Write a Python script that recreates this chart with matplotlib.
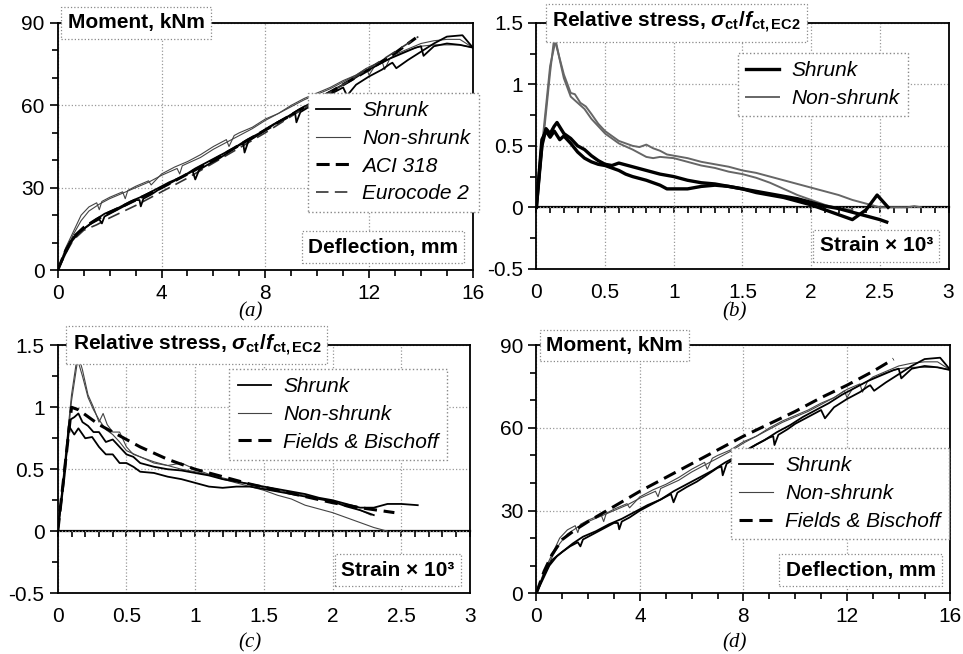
import matplotlib
matplotlib.use('Agg')
import matplotlib.pyplot as plt
from matplotlib.ticker import MultipleLocator, FuncFormatter

plt.rcParams['font.family'] = 'Liberation Sans'
plt.rcParams['axes.unicode_minus'] = False
plt.rcParams['mathtext.fontset'] = 'custom'
plt.rcParams['mathtext.rm'] = 'Liberation Sans:bold'
plt.rcParams['mathtext.it'] = 'Liberation Sans:bold:italic'
plt.rcParams['mathtext.bf'] = 'Liberation Sans:bold'

# ---- moment vs deflection (panels a and d) ----
defl_s1 = [0, 0.2, 0.5, 0.8, 1.0, 1.3, 1.6, 1.7, 1.8, 2.2, 2.6, 3.0, 3.15, 3.2, 3.3, 3.6, 4.0, 4.5, 5.0,
           5.2, 5.3, 5.45, 5.8, 6.2, 6.6, 7.0, 7.15, 7.2, 7.35, 7.7, 8.0, 8.5, 9.0, 9.15, 9.2, 9.35, 9.7,
           10.0, 10.5, 10.9, 11.0, 11.15, 11.5, 12.0, 12.5, 12.8, 12.9, 13.05, 13.5, 14.0, 14.5, 15.0, 15.6, 16.0]
mom_s1 = [0, 4, 10, 13.5, 15, 17, 18.5, 17, 19.5, 21.5, 23.5, 25.5, 25.5, 23.2, 26, 27.5, 30, 32.5, 35,
          36, 33, 36.5, 38.5, 40.5, 43, 45.5, 46, 42.8, 47, 49, 51, 54, 56.5, 57, 53.8, 57.5, 59.5,
          61.5, 64, 66, 66.5, 63.5, 67.5, 70.5, 73, 75, 75.5, 73.5, 76.5, 79.5, 82.5, 85, 85.5, 81]
defl_s2 = [0, 0.3, 0.6, 1.0, 1.4, 1.8, 2.3, 2.8, 3.3, 3.8, 4.3, 4.8, 5.3, 5.8, 6.3, 6.8, 7.3, 7.8, 8.3,
           8.8, 9.3, 9.8, 10.3, 10.8, 11.3, 11.8, 12.3, 12.8, 13.3, 13.8, 14.0, 14.1, 14.5, 15.0, 15.5, 16.0]
mom_s2 = [0, 7, 12, 15, 18, 20.5, 22.5, 25, 27, 29.5, 32, 34, 37, 39.5, 42, 44.5, 47.5, 50, 53,
          55.5, 58.5, 61, 64, 66.5, 69, 72, 74.5, 77, 79, 81, 81.5, 78, 81.5, 82.5, 82, 81]
defl_ns1 = [0, 0.3, 0.6, 0.9, 1.2, 1.5, 1.6, 1.7, 2.0, 2.5, 2.6, 2.7, 3.0, 3.5, 3.6, 4.0, 4.5, 5.0, 5.5,
            6.0, 6.5, 6.6, 6.8, 7.0, 7.5, 8.0, 8.5, 9.0, 9.5, 10.0, 10.5, 11.0, 11.5, 12.0, 12.5, 12.6,
            12.8, 13.0, 13.5, 14.0, 14.5, 15.0, 15.5, 16.0]
mom_ns1 = [0, 8, 14, 20, 23, 24.5, 22, 25, 26.5, 28.5, 26, 29, 30.5, 32.5, 31, 35, 37.5, 39.5, 42,
           45, 47.5, 45, 49, 50, 52, 55, 57, 60, 62.5, 64.5, 66.5, 69, 71, 74, 76, 73,
           77, 78.5, 80.5, 82.5, 83.5, 84, 84, 81]
defl_ns2 = [0, 0.3, 0.6, 0.9, 1.2, 1.6, 2.0, 2.5, 3.0, 3.5, 4.0, 4.6, 4.7, 4.8, 5.5, 6.0, 6.5, 7.0, 7.5,
            8.0, 8.5, 9.0, 9.5, 10.0, 10.5, 11.0, 11.5, 11.9, 12.0, 12.2, 12.5, 13.0, 13.5, 14.0, 14.5, 15.0, 15.5, 16.0]
mom_ns2 = [0, 7, 13, 18, 21.5, 24, 26, 28, 30, 32, 34.5, 37, 35, 38, 41, 44, 46.5, 49, 51.5,
           54.5, 57, 59.5, 62, 64, 66, 68.5, 71, 73.5, 71, 74, 75.5, 78, 80, 81.5, 82, 82, 82, 81]

defl_aci = [0, 0.3, 0.6, 1.0, 1.5, 2, 3, 4, 5, 6, 7, 8, 9, 10, 11, 12, 13, 13.8]
mom_aci = [0, 7, 12, 15.5, 18.5, 21, 25.5, 30, 35, 40, 45.5, 51, 56.5, 62, 67.5, 73, 79, 84.5]
defl_ec2 = [0, 0.3, 0.6, 1.0, 1.5, 2, 3, 4, 5, 6, 7, 8, 9, 10, 11, 12, 13, 13.9]
mom_ec2 = [0, 6, 11, 14.5, 16.5, 19, 23.5, 28.5, 33.5, 39, 44.5, 50, 56, 62, 67.5, 73.5, 79.5, 85]
defl_fb = [0, 0.3, 0.6, 1.0, 1.5, 2, 3, 4, 5, 6, 7, 8, 9, 10, 11, 12, 13, 13.8]
mom_fb = [0, 8, 14, 19.5, 23, 26, 31.5, 37, 42, 47, 52, 57, 61.5, 66, 71, 75.5, 80.5, 85]

# ---- relative stress vs strain, panel b ----
eps_b_ns1 = [0, 0.05, 0.1, 0.13, 0.16, 0.2, 0.25, 0.28, 0.32, 0.36, 0.4, 0.45, 0.5, 0.55, 0.6, 0.65, 0.7,
             0.75, 0.8, 0.85, 0.9, 0.95, 1.0, 1.1, 1.2, 1.3, 1.4, 1.5, 1.6, 1.7, 1.8, 1.9, 2.0, 2.1, 2.2,
             2.3, 2.4, 2.5, 2.6, 2.7, 2.75, 2.8]
sig_b_ns1 = [0, 0.55, 1.1, 1.38, 1.25, 1.08, 0.93, 0.92, 0.85, 0.82, 0.76, 0.68, 0.62, 0.58, 0.54, 0.52, 0.5,
             0.49, 0.51, 0.48, 0.46, 0.43, 0.42, 0.4, 0.37, 0.35, 0.33, 0.3, 0.28, 0.25, 0.22, 0.19, 0.16, 0.13, 0.1,
             0.06, 0.03, 0.0, 0.0, 0.0, 0.01, 0.0]
eps_b_ns2 = [0, 0.05, 0.1, 0.14, 0.17, 0.2, 0.25, 0.3, 0.35, 0.4, 0.45, 0.5, 0.55, 0.6, 0.7, 0.75, 0.8, 0.85,
             0.9, 1.0, 1.1, 1.2, 1.3, 1.4, 1.5, 1.6, 1.7, 1.8, 1.9, 2.0, 2.1, 2.2, 2.3]
sig_b_ns2 = [0, 0.6, 1.15, 1.36, 1.2, 1.05, 0.9, 0.85, 0.8, 0.72, 0.66, 0.6, 0.56, 0.52, 0.47, 0.44, 0.41, 0.4,
             0.41, 0.4, 0.37, 0.34, 0.32, 0.29, 0.27, 0.24, 0.2, 0.15, 0.1, 0.06, 0.02, -0.01, -0.02]
eps_b_s1 = [0, 0.04, 0.07, 0.1, 0.13, 0.15, 0.2, 0.25, 0.3, 0.35, 0.4, 0.45, 0.5, 0.55, 0.6, 0.7, 0.8, 0.9,
            1.0, 1.1, 1.2, 1.3, 1.4, 1.5, 1.6, 1.7, 1.8, 1.9, 2.0, 2.1, 2.2, 2.3, 2.4, 2.5, 2.55]
sig_b_s1 = [0, 0.5, 0.64, 0.6, 0.66, 0.69, 0.6, 0.56, 0.5, 0.47, 0.42, 0.38, 0.35, 0.34, 0.36, 0.33, 0.3, 0.27,
            0.25, 0.22, 0.2, 0.19, 0.17, 0.15, 0.13, 0.11, 0.09, 0.07, 0.04, 0.01, -0.01, -0.04, -0.07, -0.1, -0.12]
eps_b_s2 = [0, 0.04, 0.07, 0.1, 0.13, 0.17, 0.2, 0.25, 0.3, 0.35, 0.4, 0.45, 0.5, 0.6, 0.65, 0.7, 0.8, 0.9,
            0.95, 1.0, 1.1, 1.2, 1.3, 1.4, 1.5, 1.6, 1.7, 1.8, 1.9, 2.0, 2.1, 2.2, 2.3, 2.4, 2.48, 2.56]
sig_b_s2 = [0, 0.55, 0.62, 0.57, 0.62, 0.55, 0.58, 0.52, 0.45, 0.4, 0.37, 0.35, 0.34, 0.3, 0.27, 0.25, 0.22, 0.18,
            0.15, 0.15, 0.15, 0.17, 0.18, 0.17, 0.15, 0.12, 0.1, 0.08, 0.05, 0.02, -0.02, -0.06, -0.1, -0.02, 0.1, 0.0]

# ---- relative stress vs strain, panel c ----
eps_c_s1 = [0, 0.05, 0.09, 0.12, 0.15, 0.18, 0.22, 0.26, 0.3, 0.35, 0.4, 0.45, 0.5, 0.55, 0.6, 0.7, 0.8, 0.9,
            1.0, 1.1, 1.2, 1.3, 1.4, 1.5, 1.6, 1.7, 1.8, 1.9, 2.0, 2.1, 2.2, 2.3, 2.4, 2.5, 2.62]
sig_c_s1 = [0, 0.5, 0.9, 0.92, 0.95, 0.88, 0.85, 0.8, 0.8, 0.72, 0.74, 0.68, 0.62, 0.6, 0.55, 0.52, 0.5, 0.49,
            0.47, 0.45, 0.42, 0.4, 0.38, 0.36, 0.34, 0.32, 0.3, 0.27, 0.25, 0.22, 0.19, 0.19, 0.22, 0.22, 0.21]
eps_c_s2 = [0, 0.05, 0.08, 0.12, 0.15, 0.2, 0.25, 0.3, 0.35, 0.4, 0.45, 0.5, 0.55, 0.6, 0.7, 0.8, 0.9, 1.0,
            1.1, 1.2, 1.3, 1.4, 1.5, 1.6, 1.7, 1.8, 1.9, 2.0, 2.1, 2.2, 2.3]
sig_c_s2 = [0, 0.45, 0.85, 0.78, 0.83, 0.75, 0.76, 0.68, 0.62, 0.62, 0.55, 0.55, 0.52, 0.48, 0.47, 0.44, 0.42, 0.39,
            0.36, 0.35, 0.36, 0.36, 0.34, 0.32, 0.3, 0.28, 0.26, 0.24, 0.2, 0.17, 0.13]
eps_c_ns1 = [0, 0.05, 0.1, 0.15, 0.18, 0.22, 0.26, 0.3, 0.33, 0.36, 0.4, 0.45, 0.5, 0.55, 0.6, 0.7, 0.8, 0.9,
             1.0, 1.1, 1.2, 1.3, 1.4, 1.5, 1.6, 1.7, 1.8, 1.9, 2.0, 2.1, 2.2, 2.3, 2.4]
sig_c_ns1 = [0, 0.5, 1.05, 1.42, 1.3, 1.1, 1.0, 0.88, 0.95, 0.86, 0.8, 0.8, 0.68, 0.62, 0.6, 0.55, 0.53, 0.55,
             0.5, 0.46, 0.42, 0.39, 0.36, 0.33, 0.29, 0.26, 0.21, 0.18, 0.15, 0.11, 0.07, 0.03, 0.0]
eps_c_ns2 = [0, 0.05, 0.1, 0.14, 0.18, 0.22, 0.26, 0.3, 0.35, 0.4, 0.45, 0.5, 0.6, 0.7, 0.8, 0.9, 1.0, 1.2,
             1.4, 1.5, 1.6, 1.8, 2.0, 2.1, 2.2, 2.28]
sig_c_ns2 = [0, 0.55, 1.1, 1.4, 1.25, 1.08, 0.98, 0.9, 0.82, 0.78, 0.72, 0.65, 0.6, 0.56, 0.53, 0.5, 0.48, 0.43,
             0.38, 0.35, 0.33, 0.29, 0.24, 0.21, 0.17, 0.13]
eps_fb = [0, 0.1, 0.15, 0.2, 0.3, 0.4, 0.5, 0.6, 0.7, 0.8, 0.9, 1.0, 1.2, 1.4, 1.6, 1.8, 2.0, 2.2, 2.45]
sig_fb = [0, 1.0, 0.98, 0.94, 0.86, 0.8, 0.74, 0.68, 0.63, 0.58, 0.54, 0.5, 0.44, 0.38, 0.33, 0.28, 0.23, 0.19, 0.15]

stress_title = r'Relative stress, $\sigma_{\mathrm{ct}}/f_{\mathrm{ct,EC2}}$'
box = dict(boxstyle='square,pad=0.3', fc='white', ec='#888888', lw=0.9, ls=':')
fmt = FuncFormatter(lambda v, p: f'{v:g}')

# line styles
st_s = dict(color='black', lw=1.3)
st_ns = dict(color='#444444', lw=0.8)
st_s_b = dict(color='black', lw=2.4)
st_ns_b = dict(color='#666666', lw=1.4)
st_aci = dict(color='black', lw=2.2, ls=(0, (4.3, 2.0)))
st_ec2 = dict(color='#333333', lw=1.2, ls=(0, (7.5, 3.8)))
st_fb = dict(color='black', lw=2.2, ls=(0, (4.3, 2.2)))

fig = plt.figure(figsize=(9.63, 6.54), dpi=100)
ax_a = fig.add_axes([0.060, 0.587, 0.431, 0.378])
ax_b = fig.add_axes([0.557, 0.589, 0.428, 0.376])
ax_c = fig.add_axes([0.060, 0.093, 0.428, 0.379])
ax_d = fig.add_axes([0.557, 0.093, 0.430, 0.379])


def base_style(ax):
    for s in ax.spines.values():
        s.set_linewidth(1.3)
    ax.grid(True, which='major', color='#999999', ls=':', lw=0.9)
    ax.set_axisbelow(True)
    ax.tick_params(which='both', labelsize=15, width=1.2, direction='out')
    ax.tick_params(which='major', length=6)
    ax.tick_params(which='minor', length=4)
    ax.xaxis.set_major_formatter(fmt)
    ax.yaxis.set_major_formatter(fmt)


def moment_axes(ax):
    base_style(ax)
    ax.set_xlim(0, 16)
    ax.set_ylim(0, 90)
    ax.xaxis.set_major_locator(MultipleLocator(4))
    ax.xaxis.set_minor_locator(MultipleLocator(1))
    ax.yaxis.set_major_locator(MultipleLocator(30))
    ax.yaxis.set_minor_locator(MultipleLocator(10))
    ax.tick_params(axis='x', pad=4)
    ax.text(0.024, 1.0, 'Moment, kNm', transform=ax.transAxes, fontsize=15, fontweight='bold',
            ha='left', va='center', bbox=box, zorder=10)
    ax.text(0.964, 0.093, 'Deflection, mm', transform=ax.transAxes, fontsize=15, fontweight='bold',
            ha='right', va='center', bbox=box, zorder=10)


def stress_axes(ax, tx):
    base_style(ax)
    ax.set_xlim(0, 3)
    ax.set_ylim(-0.5, 1.5)
    ax.xaxis.set_major_locator(MultipleLocator(0.5))
    ax.yaxis.set_major_locator(MultipleLocator(0.5))
    ax.yaxis.set_minor_locator(MultipleLocator(0.25))
    ax.tick_params(axis='x', which='both', length=0, pad=10)
    # the zero line carries the strain ticks
    sec = ax.secondary_xaxis(0.25)
    sec.xaxis.set_major_locator(MultipleLocator(0.5))
    sec.xaxis.set_minor_locator(MultipleLocator(0.1))
    sec.tick_params(which='both', direction='out', labelbottom=False, width=1.2, length=4)
    sec.spines['bottom'].set_linewidth(1.6)
    ax.text(tx, 1.0, stress_title, transform=ax.transAxes, fontsize=15, fontweight='bold',
            ha='left', va='center', bbox=box, zorder=10)
    ax.text(0.962, 0.093, 'Strain × 10³', transform=ax.transAxes, fontsize=15, fontweight='bold',
            ha='right', va='center', bbox=box, zorder=10)


def add_legend(ax, styles, labels, anchor):
    handles = [plt.Line2D([], [], **s) for s in styles]
    leg = ax.legend(handles, labels, loc='upper left', bbox_to_anchor=anchor,
                    bbox_transform=fig.transFigure, borderaxespad=0, fancybox=False,
                    framealpha=1, edgecolor='#888888',
                    prop={'family': 'Liberation Sans', 'style': 'italic', 'size': 15},
                    handlelength=1.6, handletextpad=0.6, labelspacing=0.42, borderpad=0.4)
    leg.get_frame().set_linestyle(':')
    leg.get_frame().set_linewidth(1.0)


# (a)
moment_axes(ax_a)
ax_a.plot(defl_ns1, mom_ns1, **st_ns)
ax_a.plot(defl_ns2, mom_ns2, **st_ns)
ax_a.plot(defl_s2, mom_s2, **st_s)
ax_a.plot(defl_aci, mom_aci, **st_aci)
ax_a.plot(defl_ec2, mom_ec2, **st_ec2)
ax_a.plot(defl_s1, mom_s1, **st_s)
add_legend(ax_a, [st_s, st_ns, st_aci, st_ec2], ['Shrunk', 'Non-shrunk', 'ACI 318', 'Eurocode 2'],
           (0.320, 0.858))

# (b)
stress_axes(ax_b, 0.039)
ax_b.plot(eps_b_ns1, sig_b_ns1, **st_ns_b)
ax_b.plot(eps_b_ns2, sig_b_ns2, **st_ns_b)
ax_b.plot(eps_b_s1, sig_b_s1, **st_s_b)
ax_b.plot(eps_b_s2, sig_b_s2, **st_s_b)
add_legend(ax_b, [st_s_b, st_ns_b], ['Shrunk', 'Non-shrunk'], (0.766, 0.919))

# (c)
stress_axes(ax_c, 0.036)
ax_c.plot(eps_c_ns1, sig_c_ns1, **st_ns)
ax_c.plot(eps_c_ns2, sig_c_ns2, **st_ns)
ax_c.plot(eps_c_s1, sig_c_s1, **st_s)
ax_c.plot(eps_c_s2, sig_c_s2, **st_s)
ax_c.plot(eps_fb, sig_fb, **st_fb)
add_legend(ax_c, [st_s, st_ns, st_fb], ['Shrunk', 'Non-shrunk', 'Fields & Bischoff'], (0.238, 0.436))

# (d)
moment_axes(ax_d)
ax_d.plot(defl_ns1, mom_ns1, **st_ns)
ax_d.plot(defl_ns2, mom_ns2, **st_ns)
ax_d.plot(defl_s1, mom_s1, **st_s)
ax_d.plot(defl_s2, mom_s2, **st_s)
ax_d.plot(defl_fb, mom_fb, **st_fb)
add_legend(ax_d, [st_s, st_ns, st_fb], ['Shrunk', 'Non-shrunk', 'Fields & Bischoff'], (0.759, 0.315))

for x, y, t in [(0.26, 0.523, '(a)'), (0.763, 0.523, '(b)'), (0.26, 0.017, '(c)'), (0.763, 0.017, '(d)')]:
    fig.text(x, y, t, family='Liberation Serif', style='italic', fontsize=15, ha='center', va='center')

fig.savefig('out.png', dpi=100)
